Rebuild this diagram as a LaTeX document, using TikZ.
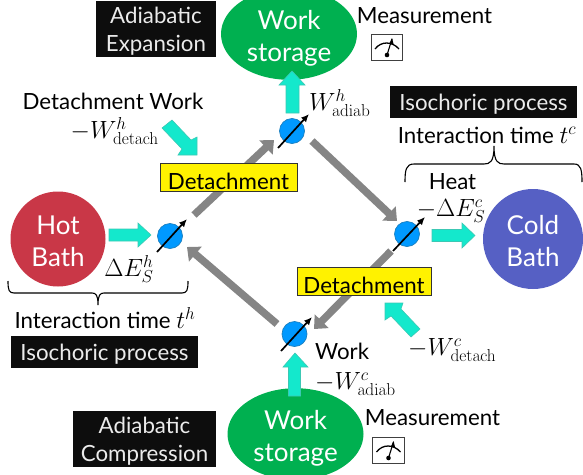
\documentclass[tikz,border=0pt]{standalone}
\usepackage[no-math]{fontspec}
\setmainfont{Lato}
\usepackage{amsmath}
\usetikzlibrary{arrows.meta,shapes.geometric,shapes.arrows}
\definecolor{cyanarrow}{HTML}{14E8CC}
\definecolor{cyanedge}{HTML}{3CC8B4}
\definecolor{hotred}{HTML}{C93747}
\definecolor{coldblue}{HTML}{5660C4}
\definecolor{storegreen}{HTML}{00B050}
\definecolor{spinblue}{HTML}{0099FF}
\definecolor{spinedge}{HTML}{1B7FBF}
\definecolor{boxblack}{HTML}{0D0D0D}
\definecolor{grayarrow}{HTML}{858585}
\newcommand{\txtsize}{\fontsize{22.3}{28}\selectfont}
\newcommand{\mathsize}{\fontsize{24.5}{28}\selectfont}
\newcommand{\bigsize}{\fontsize{26}{32}\selectfont}
\newcommand{\dn}[1]{\rule{0pt}{#1pt}}
\tikzset{
  x=1pt,y=-1pt,
  label text/.style={inner sep=0pt,text=black,align=center,font=\txtsize},
  math text/.style={inner sep=0pt,text=black,align=center,font=\mathsize},
  black box/.style={fill=boxblack,text=white!92!black,inner sep=0pt,align=center,font=\txtsize},
  yellow box/.style={fill=yellow,draw=black!80,line width=0.8pt,inner sep=0pt,text=black,font=\txtsize,minimum height=28pt},
  bath/.style={circle,inner sep=0pt,text=white,align=center,font=\bigsize,minimum size=95pt},
  store/.style={ellipse,fill=storegreen,inner sep=0pt,text=white,align=center,font=\bigsize,minimum width=136pt,minimum height=66pt},
  spin/.style={circle,fill=spinblue,draw=spinedge,line width=0.7pt,minimum size=25pt,inner sep=0pt},
  spin arrow/.style={line width=1.7pt,-{Latex[length=8pt,width=7pt]},black},
  flow/.style={line width=7.5pt,grayarrow,-{Triangle[length=11pt,width=19pt]}},
  block/.style={fill=cyanarrow,draw=cyanedge,line width=0.6pt,line join=miter},
  gauge box/.style={draw=black!75,fill=white,line width=0.8pt},
  brace line/.style={draw=black,line width=1.1pt},
}
\begin{document}
\begin{tikzpicture}
\useasboundingbox (0,0) rectangle (583,474);

% named arrow ends
\coordinate (g1a) at (194,215); \coordinate (g1b) at (274,140);
\coordinate (g2a) at (312,141); \coordinate (g2b) at (397,221);
\coordinate (g3a) at (391,251); \coordinate (g3b) at (314,329);
\coordinate (g4a) at (277,324); \coordinate (g4b) at (187,247);
\draw[flow] (g1a) -- (g1b);
\draw[flow] (g2a) -- (g2b);
\draw[flow] (g3a) -- (g3b);
\draw[flow] (g4a) -- (g4b);

% baths and storages
\node[bath,fill=hotred] (hot) at (58,239) {\dn{23}Hot\\Bath};
\node[bath,fill=coldblue,minimum size=100pt] (cold) at (533,239) {\dn{23}Cold\\Bath};
\node[store] (wtop) at (289,34) {\dn{28}Work\\storage};
\node[store] (wbot) at (295.5,434) {\dn{28}Work\\storage};

% spins
\node[spin] (s1) at (170,236) {};
\node[spin] (s2) at (292,131) {};
\node[spin] (s3) at (407,234) {};
\node[spin] (s4) at (294.5,334) {};
\coordinate (s1a) at (157,252); \coordinate (s1b) at (187,219);
\coordinate (s2a) at (278,148); \coordinate (s2b) at (309,114);
\coordinate (s3a) at (393,251); \coordinate (s3b) at (425,217);
\coordinate (s4a) at (281,351); \coordinate (s4b) at (312,317);
\draw[spin arrow] (s1a) -- (s1b);
\draw[spin arrow] (s2a) -- (s2b);
\draw[spin arrow] (s3a) -- (s3b);
\draw[spin arrow] (s4a) -- (s4b);

% cyan block arrows
\draw[block] (109,229) -- (138,229) -- (138,223) -- (151,235) -- (138,247) -- (138,241) -- (109,241) -- cycle;
\draw[block] (432,229.5) -- (462,229.5) -- (462,223) -- (475,235.5) -- (462,248) -- (462,241.5) -- (432,241.5) -- cycle;
\draw[block] (286,113) -- (286,85) -- (279,85) -- (292,71) -- (305,85) -- (299,85) -- (299,113) -- cycle;
\draw[block] (288.5,396) -- (288.5,367) -- (283,367) -- (295,353) -- (308,367) -- (300.5,367) -- (300.5,396) -- cycle;
\draw[block] (162,128) -- (172,120) -- (191,140) -- (197,137) -- (197,155) -- (178,155) -- (182,149) -- cycle;
\draw[block] (411,337) -- (420,329) -- (401,309) -- (403,303) -- (385,303) -- (385,320) -- (391,316) -- cycle;

% yellow boxes
\node[yellow box,minimum width=137pt] (det1) at (228.5,177.5) {\dn{24}Detachment};
\node[yellow box,minimum width=134pt] (det2) at (364,281.5) {\dn{24}Detachment};

% black boxes
\node[black box,minimum width=120pt,minimum height=56pt] (exp) at (156,29) {\dn{21}Adiabatic\\Expansion};
\node[black box,minimum width=143pt,minimum height=56pt] (comp) at (144.5,439) {\dn{21}Adiabatic\\Compression};
\node[black box,minimum width=187pt,minimum height=32pt] (isoc) at (483.5,102) {\dn{20}Isochoric process};
\node[black box,minimum width=187pt,minimum height=32pt] (isoh) at (104.5,352) {\dn{20}Isochoric process};

% labels
\node[label text] (m1) at (424.5,16) {Measurement};
\node[label text] (m2) at (432.5,418) {Measurement};
\node[label text] (dw) at (113,101) {Detachment Work};
\node[math text,anchor=east] (wdh) at (159,131) {$-W^{h}_{\mathrm{detach}}$};
\node[math text,anchor=west] (wah) at (309,103) {$W^{h}_{\mathrm{adiab}}$};
\node[label text] (ith) at (105,318) {Interaction time {\mathsize $t^{h}$}};
\node[label text] (itc) at (487,135) {Interaction time {\mathsize $t^{c}$}};
\node[label text] (heat) at (452.5,182) {Heat};
\node[math text] (dec) at (451,211) {$-\Delta E^{c}_{S}$};
\node[math text] (deh) at (129,269) {$\Delta E^{h}_{S}$};
\node[label text,anchor=west] (wk) at (315,351) {Work};
\node[math text,anchor=west] (wac) at (315,384) {$-W^{c}_{\mathrm{adiab}}$};
\node[math text,anchor=west] (wdc) at (408,350) {$-W^{c}_{\mathrm{detach}}$};

% braces
\draw[brace line] (405,182) .. controls (405,170) and (406,164) .. (414,164) -- (484,164) .. controls (490,164) and (494,162) .. (494,146) .. controls (494,162) and (498,164) .. (504,164) -- (574,164) .. controls (581,164) and (582,170) .. (582,182);
\draw[brace line] (8,281) .. controls (8,290) and (9,293) .. (14,293) -- (92,293) .. controls (96,293) and (98,295) .. (98,305) .. controls (98,295) and (100,293) .. (104,293) -- (182,293) .. controls (187,293) and (188,290) .. (188,281);

% gauges
\foreach \gx/\gy/\nm in {371/34/ga,372.5/437/gb}{
  \begin{scope}[shift={(\gx,\gy)}]
    \draw[gauge box] (0,0) rectangle (31.5,26.5);
    \draw[line width=1.3pt,black] (4,15) .. controls (10,7) and (21,7) .. (28,15);
    \draw[line width=1.1pt,black] (16,21) -- (21,5);
    \fill[black] (16,21) circle (2.3);
    \fill[black] (21,4) -- (18.5,9.5) -- (22.5,10) -- cycle;
  \end{scope}
}
\end{tikzpicture}
\end{document}
